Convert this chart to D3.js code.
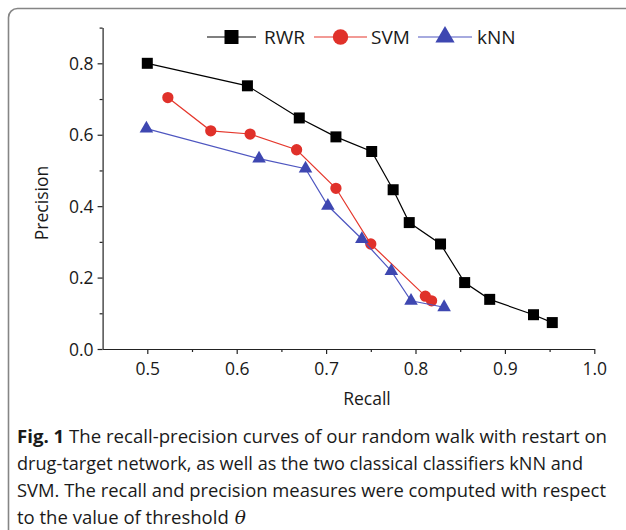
<!DOCTYPE html>
<html>
<head>
<meta charset="utf-8">
<script src="https://cdn.jsdelivr.net/npm/d3@7"></script>
<style>
  body { margin: 0; background: #fff; }
  svg { display: block; font-family: "Open Sans", "Noto Sans", sans-serif; }
</style>
</head>
<body>
<div id="chart"></div>
<script>
// values
const rwrRecall = [0.500, 0.612, 0.670, 0.711, 0.751, 0.775, 0.793, 0.828, 0.855, 0.883, 0.932, 0.953];
const rwrPrecision = [0.800, 0.737, 0.647, 0.594, 0.553, 0.446, 0.354, 0.294, 0.186, 0.139, 0.096, 0.074];
const svmRecall = [0.523, 0.571, 0.615, 0.667, 0.711, 0.750, 0.811, 0.818];
const svmPrecision = [0.704, 0.611, 0.602, 0.558, 0.450, 0.294, 0.148, 0.135];
const knnRecall = [0.499, 0.625, 0.677, 0.702, 0.740, 0.773, 0.795, 0.832];
const knnPrecision = [0.617, 0.533, 0.505, 0.401, 0.308, 0.218, 0.135, 0.117];

const xMajor = [0.5, 0.6, 0.7, 0.8, 0.9, 1.0];
const xMinor = [0.55, 0.65, 0.75, 0.85, 0.95];
const yMajor = [0.0, 0.2, 0.4, 0.6, 0.8];
const yMinor = [0.1, 0.3, 0.5, 0.7, 0.9];

const captionLines = [
  'The recall-precision curves of our random walk with restart on',
  'drug-target network, as well as the two classical classifiers kNN and',
  'SVM. The recall and precision measures were computed with respect',
  'to the value of threshold'
];

const W = 626, H = 530;
const svg = d3.select('#chart').append('svg')
  .attr('width', W)
  .attr('height', H);

// frame around the figure (only top/left visible)
svg.append('rect')
  .attr('x', 8.5).attr('y', 8.5)
  .attr('width', 700).attr('height', 600)
  .attr('rx', 9)
  .attr('fill', 'none')
  .attr('stroke', '#858585')
  .attr('stroke-width', 1.6);

const x = d3.scaleLinear().domain([0.45, 1.0]).range([102.6, 594.3]);
const y = d3.scaleLinear().domain([0, 0.9]).range([349, 27.6]);

const axisColor = '#222';

// x axis
const gx = svg.append('g').attr('transform', `translate(0,${y(0)})`);
gx.call(d3.axisBottom(x).tickValues(xMajor).tickFormat(d3.format('.1f')).tickSize(5).tickSizeOuter(0));
gx.append('g').call(d3.axisBottom(x).tickValues(xMinor).tickFormat('').tickSize(3).tickSizeOuter(0))
  .select('.domain').remove();

// y axis
const gy = svg.append('g').attr('transform', `translate(${x(0.45)},0)`);
gy.call(d3.axisLeft(y).tickValues(yMajor).tickFormat(d3.format('.1f')).tickSize(5).tickSizeOuter(0));
gy.append('g').call(d3.axisLeft(y).tickValues(yMinor).tickFormat('').tickSize(3).tickSizeOuter(0))
  .select('.domain').remove();

svg.selectAll('.domain, .tick line').attr('stroke', axisColor).attr('stroke-width', 1.2);
svg.selectAll('.tick text')
  .attr('font-size', 17.5)
  .attr('fill', '#1a1a1a')
  .attr('font-family', '"Open Sans", "Noto Sans", sans-serif');
gx.selectAll('.tick text').attr('dy', '1.0em');
gy.selectAll('.tick text').attr('x', -9).attr('dy', '0.35em');

// axis titles
svg.append('text')
  .attr('x', 367).attr('y', 405)
  .attr('text-anchor', 'middle')
  .attr('font-size', 17.5)
  .attr('fill', '#1a1a1a')
  .text('Recall');

svg.append('text')
  .attr('transform', 'translate(48,203) rotate(-90)')
  .attr('text-anchor', 'middle')
  .attr('font-size', 17.5)
  .attr('fill', '#1a1a1a')
  .text('Precision');

// series
const series = [
  { name: 'RWR', rx: rwrRecall, py: rwrPrecision, color: '#000000', fill: '#000000', shape: d3.symbolSquare },
  { name: 'SVM', rx: svmRecall, py: svmPrecision, color: '#e5372c', fill: '#e0312a', shape: d3.symbolCircle },
  { name: 'kNN', rx: knnRecall, py: knnPrecision, color: '#4e56c0', fill: '#3e47b1', shape: d3.symbolTriangle }
];
const markSize = [121, 100, 80];
const legendSize = [196, 185, 160];

const line = d3.line().x(d => x(d[0])).y(d => y(d[1]));

series.forEach((s, k) => {
  const pts = s.rx.map((r, i) => [r, s.py[i]]);
  svg.append('path')
    .datum(pts)
    .attr('d', line)
    .attr('fill', 'none')
    .attr('stroke', s.color)
    .attr('stroke-width', 1.2);
  svg.selectAll(null)
    .data(pts)
    .enter().append('path')
    .attr('d', d3.symbol().type(s.shape).size(markSize[k]))
    .attr('transform', d => `translate(${x(d[0])},${y(d[1])})`)
    .attr('fill', s.fill);
});

// legend
const legendY = 37;
const legendItems = [
  { x0: 207, x1: 256, text: 264 },
  { x0: 314, x1: 367, text: 371 },
  { x0: 418, x1: 472, text: 477 }
];
series.forEach((s, i) => {
  const it = legendItems[i];
  svg.append('line')
    .attr('x1', it.x0).attr('x2', it.x1)
    .attr('y1', legendY).attr('y2', legendY)
    .attr('stroke', s.color).attr('stroke-width', 1.2);
  svg.append('path')
    .attr('d', d3.symbol().type(s.shape).size(legendSize[i]))
    .attr('transform', `translate(${(it.x0 + it.x1) / 2},${legendY})`)
    .attr('fill', s.fill);
  svg.append('text')
    .attr('x', it.text).attr('y', legendY)
    .attr('dy', '0.36em')
    .attr('font-size', 19)
    .attr('fill', '#1a1a1a')
    .text(s.name);
});

// caption
const capX = 17;
const capY = [443, 470, 497, 524];
const capLen = [590, 566, 589, null];
captionLines.forEach((t, i) => {
  const tx = svg.append('text')
    .attr('x', capX).attr('y', capY[i])
    .attr('font-size', 18.5)
    .attr('fill', '#1a1a1a');
  if (capLen[i]) tx.attr('textLength', capLen[i]).attr('lengthAdjust', 'spacingAndGlyphs');
  if (i === 0) {
    tx.append('tspan').attr('font-weight', 'bold').text('Fig. 1');
    tx.append('tspan').text(' ' + t);
  } else {
    tx.text(t);
  }
  if (i === 3) {
    const w = tx.node().getComputedTextLength();
    svg.append('text')
      .attr('x', capX + w + 6).attr('y', capY[i])
      .attr('font-size', 18.5)
      .attr('font-style', 'italic')
      .attr('font-family', '"DejaVu Serif", "Liberation Serif", serif')
      .attr('fill', '#1a1a1a')
      .text('\u03B8');
  }
});
</script>
</body>
</html>
